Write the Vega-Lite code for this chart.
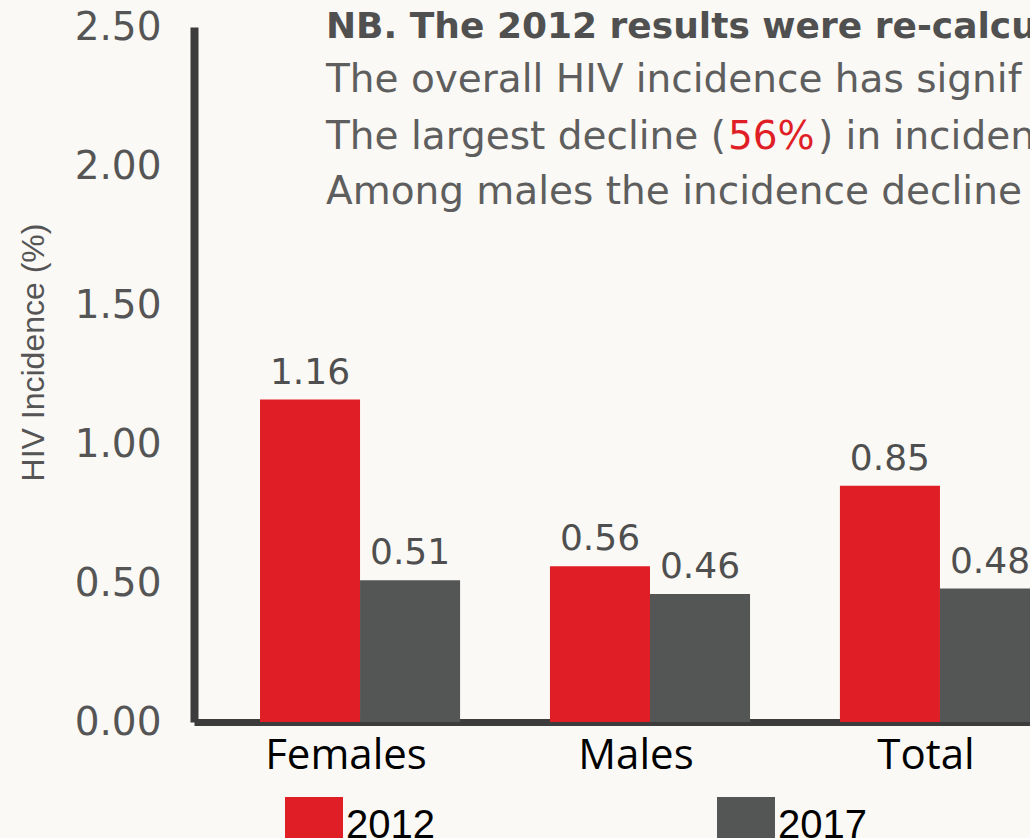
{
  "$schema": "https://vega.github.io/schema/vega-lite/v6.json",
  "width": 912,
  "height": 695,
  "autosize": {"type": "none"},
  "padding": {"left": 194, "top": 27, "right": 0, "bottom": 116},
  "background": "#faf9f5",
  "config": {"view": {"stroke": null}},
  "datasets": {
    "bars": [
      {"group": "Females", "year": "2012", "value": 1.16},
      {"group": "Females", "year": "2017", "value": 0.51},
      {"group": "Males", "year": "2012", "value": 0.56},
      {"group": "Males", "year": "2017", "value": 0.46},
      {"group": "Total", "year": "2012", "value": 0.85},
      {"group": "Total", "year": "2017", "value": 0.48}
    ],
    "notes": [
      {"kind": "head", "text": "NB. The 2012 results were re-calcu", "pos": 0.1447, "line": 2.5},
      {"kind": "body", "text": "The overall HIV incidence has signif", "pos": 0.1447, "line": 2.309},
      {"kind": "body", "text": "The largest decline (", "pos": 0.1447, "line": 2.104},
      {"kind": "highlight", "text": "56%", "pos": 0.5855, "line": 2.104},
      {"kind": "body", "text": ") in inciden", "pos": 0.6842, "line": 2.104},
      {"kind": "body", "text": "Among males the incidence decline", "pos": 0.1447, "line": 1.906}
    ]
  },
  "layer": [
    {
      "data": {"name": "bars"},
      "encoding": {
        "x": {
          "field": "group",
          "type": "nominal",
          "sort": ["Females", "Males", "Total"],
          "scale": {"paddingInner": 0.31, "paddingOuter": 0.2276},
          "axis": {
            "title": null,
            "domain": true,
            "domainColor": "#3c3c3c",
            "domainWidth": 7,
            "ticks": false,
            "labelFont": "Open Sans",
            "labelFontSize": 42,
            "labelColor": "#000000",
            "labelPadding": 13,
            "labelOffset": -14,
            "labelAngle": 0
          }
        },
        "xOffset": {"field": "year", "type": "nominal", "sort": ["2012", "2017"]},
        "y": {
          "field": "value",
          "type": "quantitative",
          "scale": {"domain": [0, 2.5], "nice": false},
          "axis": {
            "title": "HIV Incidence (%)",
            "titleFont": "Liberation Sans",
            "titleFontSize": 32,
            "titleFontWeight": "normal",
            "titleColor": "#555555",
            "titlePadding": 24,
            "titleY": 325,
            "values": [0, 0.5, 1, 1.5, 2, 2.5],
            "format": ".2f",
            "domain": true,
            "domainColor": "#3c3c3c",
            "domainWidth": 8,
            "ticks": false,
            "grid": false,
            "labelFont": "DejaVu Sans",
            "labelFontSize": 39,
            "labelColor": "#555555",
            "labelPadding": 33
          }
        }
      },
      "layer": [
        {
          "mark": {"type": "bar"},
          "encoding": {
            "color": {
              "field": "year",
              "type": "nominal",
              "scale": {"domain": ["2012", "2017"], "range": ["#e01e26", "#545555"]},
              "legend": {
                "title": null,
                "orient": "none",
                "legendX": 91,
                "legendY": 770,
                "direction": "horizontal",
                "symbolType": "square",
                "symbolSize": 3364,
                "symbolStrokeWidth": 0,
                "symbolOpacity": 1,
                "labelFont": "Liberation Sans",
                "labelFontSize": 40,
                "labelColor": "#000000",
                "labelOffset": 3,
                "columnPadding": 282,
                "padding": 0
              }
            }
          }
        },
        {
          "mark": {"type": "text", "baseline": "bottom", "dy": -8, "font": "DejaVu Sans", "fontSize": 36, "color": "#4f4f4f"},
          "encoding": {"text": {"field": "value", "type": "quantitative", "format": ".2f"}}
        }
      ]
    },
    {
      "data": {"name": "notes"},
      "encoding": {
        "x": {"field": "pos", "type": "quantitative", "scale": {"domain": [0, 1]}, "axis": null},
        "y": {"field": "line", "type": "quantitative", "scale": {"domain": [0, 2.5], "nice": false}, "axis": null},
        "text": {"field": "text", "type": "nominal"}
      },
      "layer": [
        {
          "transform": [{"filter": "datum.kind === 'head'"}],
          "mark": {"type": "text", "align": "left", "baseline": "middle", "font": "DejaVu Sans", "fontWeight": "bold", "fontSize": 36, "color": "#505050"}
        },
        {
          "transform": [{"filter": "datum.kind === 'body'"}],
          "mark": {"type": "text", "align": "left", "baseline": "middle", "font": "DejaVu Sans", "fontSize": 39, "color": "#5e5e5e"}
        },
        {
          "transform": [{"filter": "datum.kind === 'highlight'"}],
          "mark": {"type": "text", "align": "left", "baseline": "middle", "font": "DejaVu Sans", "fontSize": 39, "color": "#e01e26"}
        }
      ]
    }
  ],
  "resolve": {"scale": {"x": "independent", "y": "independent"}}
}
